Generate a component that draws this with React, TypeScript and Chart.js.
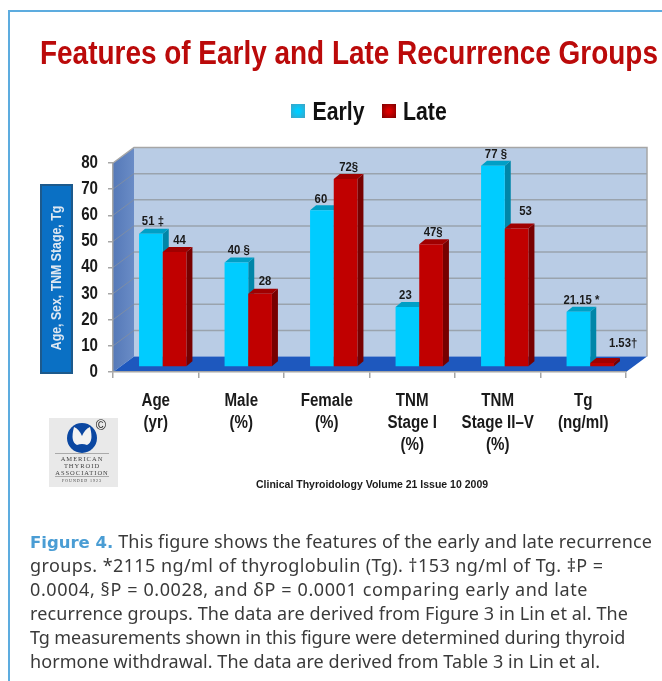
import React, { useEffect, useRef } from "react";
import { Chart, registerables } from "chart.js";

Chart.register(...registerables);

const titleText = "Features of Early and Late Recurrence Groups";
const categories: string[][] = [
  ["Age", "(yr)"],
  ["Male", "(%)"],
  ["Female", "(%)"],
  ["TNM", "Stage I", "(%)"],
  ["TNM", "Stage II\u2013V", "(%)"],
  ["Tg", "(ng/ml)"],
];
const earlyValues = [51, 40, 60, 23, 77, 21.15];
const lateValues = [44, 28, 72, 47, 53, 1.53];
const earlyLabels = ["51 \u2021", "40 \u00a7", "60", "23", "77 \u00a7", "21.15 *"];
const lateLabels = ["44", "28", "72\u00a7", "47\u00a7", "53", "1.53\u2020"];
const earlyNudge = [[2, -12], [2.4, -12.3], [-1, -11], [-2, -11.3], [3, -12], [3, -11.3]];
const lateNudge = [[5, -11.4], [5, -12.3], [3, -12], [2, -12], [9, -17], [21, -20]];
const yAxisTitle = "Age, Sex, TNM Stage, Tg";
const footerText = "Clinical Thyroidology Volume 21 Issue 10 2009";
const logoLines = ["AMERICAN", "THYROID", "ASSOCIATION"];
const logoFounded = "FOUNDED 1923";
const captionLead = "Figure 4.";
const captionLines = [
  " This figure shows the features of the early and late recurrence",
  "groups. *2115 ng/ml of thyroglobulin (Tg). \u2020153 ng/ml of Tg. \u2021P =",
  "0.0004, \u00a7P = 0.0028, and \u03b4P = 0.0001 comparing early and late",
  "recurrence groups. The data are derived from Figure 3 in Lin et al. The",
  "Tg measurements shown in this figure were determined during thyroid",
  "hormone withdrawal. The data are derived from Table 3 in Lin et al.",
];
const captionTracking = [0.16, 0.41, 0.6, 0.11, -0.06, 0.06];

const SANS = '"Liberation Sans", Arial, sans-serif';
const WALL_DX = 21;
const WALL_DY = -15.5;
const BAR_DX = 6;
const BAR_DY = -5;
const SHIFT_X = 7;
const SHIFT_Y = -5;
const faces = [
  { side: "#0086a8", top: "#009fc6" },
  { side: "#770000", top: "#a00000" },
];

// Liberation Sans Narrow is not installed: squeeze text horizontally around its anchor.
const squeeze = { x: 0.84 };

function patchNarrowText(ctx: any) {
  const original = ctx.fillText.bind(ctx);
  ctx.fillText = (t: string, x: number, y: number) => {
    ctx.save();
    ctx.translate(x, y);
    ctx.scale(squeeze.x, 1);
    original(t, 0, 0);
    ctx.restore();
  };
}

const scenePlugin = {
  id: "scene",
  beforeDraw(chart: any) {
    const { ctx, scales } = chart;
    const y = scales.y;
    const x0 = chart.chartArea.left;
    const x1 = chart.chartArea.right;
    const yBase = y.getPixelForValue(0);
    const yTop = y.getPixelForValue(80);
    ctx.save();

    // title
    squeeze.x = 0.834;
    ctx.fillStyle = "#bb0a0a";
    ctx.font = `bold 33.5px ${SANS}`;
    ctx.textAlign = "left";
    ctx.textBaseline = "alphabetic";
    ctx.fillText(titleText, 40, 64);

    // legend
    const swatch = (sx: number, c1: string, c2: string) => {
      const g = ctx.createRadialGradient(sx + 7, 111, 2, sx + 7, 111, 9);
      g.addColorStop(0, c1);
      g.addColorStop(1, c2);
      ctx.fillStyle = g;
      ctx.fillRect(sx, 104, 14, 14);
    };
    swatch(291, "#00ccff", "#3aa6c8");
    swatch(382, "#d80000", "#840000");
    squeeze.x = 0.85;
    ctx.fillStyle = "#111";
    ctx.font = `bold 25px ${SANS}`;
    ctx.fillText("Early", 312.5, 120);
    ctx.fillText("Late", 403, 120);

    // y axis box
    ctx.fillStyle = "#0a70c4";
    ctx.strokeStyle = "#1d5a8c";
    ctx.lineWidth = 2;
    ctx.fillRect(41, 185, 31, 188);
    ctx.strokeRect(41, 185, 31, 188);
    ctx.save();
    ctx.translate(57, 278);
    ctx.rotate(-Math.PI / 2);
    ctx.fillStyle = "#dfe8f2";
    ctx.font = `bold 14.5px ${SANS}`;
    ctx.textAlign = "center";
    ctx.textBaseline = "middle";
    ctx.fillText(yAxisTitle, 0, 0);
    ctx.restore();

    // left wall
    const lw = ctx.createLinearGradient(x0, 0, x0 + WALL_DX, 0);
    lw.addColorStop(0, "#5579b8");
    lw.addColorStop(1, "#6a8cc6");
    ctx.fillStyle = lw;
    ctx.beginPath();
    ctx.moveTo(x0, yBase);
    ctx.lineTo(x0 + WALL_DX, yBase + WALL_DY);
    ctx.lineTo(x0 + WALL_DX, yTop + WALL_DY);
    ctx.lineTo(x0, yTop);
    ctx.closePath();
    ctx.fill();

    // back wall
    ctx.fillStyle = "#b9cce5";
    ctx.fillRect(x0 + WALL_DX, yTop + WALL_DY, x1 - x0, yBase - yTop);
    ctx.strokeStyle = "#a6a6a6";
    ctx.lineWidth = 1.5;
    ctx.beginPath();
    ctx.moveTo(x0, yTop);
    ctx.lineTo(x0 + WALL_DX, yTop + WALL_DY);
    ctx.lineTo(x1 + WALL_DX, yTop + WALL_DY);
    ctx.lineTo(x1 + WALL_DX, yBase + WALL_DY);
    ctx.stroke();

    // grid lines
    for (let v = 10; v < 80; v += 10) {
      const py = y.getPixelForValue(v);
      ctx.strokeStyle = "#7d8da6";
      ctx.lineWidth = 1;
      ctx.beginPath();
      ctx.moveTo(x0, py);
      ctx.lineTo(x0 + WALL_DX, py + WALL_DY);
      ctx.stroke();
      ctx.strokeStyle = "#9aa3ad";
      ctx.lineWidth = 1.5;
      ctx.beginPath();
      ctx.moveTo(x0 + WALL_DX, py + WALL_DY);
      ctx.lineTo(x1 + WALL_DX, py + WALL_DY);
      ctx.stroke();
    }

    // floor
    ctx.fillStyle = "#1e58be";
    ctx.beginPath();
    ctx.moveTo(x0, yBase);
    ctx.lineTo(x0 + WALL_DX, yBase + WALL_DY);
    ctx.lineTo(x1 + WALL_DX, yBase + WALL_DY);
    ctx.lineTo(x1, yBase);
    ctx.closePath();
    ctx.fill();

    // footer
    squeeze.x = 1;
    ctx.fillStyle = "#1a1a1a";
    ctx.font = `bold 10.5px ${SANS}`;
    ctx.textAlign = "left";
    ctx.fillText(footerText, 256, 488);

    // logo
    ctx.fillStyle = "#e9e9e9";
    ctx.fillRect(49, 418, 69, 69);
    ctx.fillStyle = "#0b47a1";
    ctx.beginPath();
    ctx.arc(82, 438, 15, 0, Math.PI * 2);
    ctx.fill();
    ctx.fillStyle = "#f2f2f2";
    ctx.beginPath();
    ctx.moveTo(74, 427);
    ctx.quadraticCurveTo(79, 429, 82, 436);
    ctx.quadraticCurveTo(85, 429, 90, 427);
    ctx.quadraticCurveTo(94, 442, 87, 445);
    ctx.quadraticCurveTo(82, 443, 77, 445);
    ctx.quadraticCurveTo(70, 442, 74, 427);
    ctx.fill();
    ctx.fillStyle = "#222";
    ctx.font = `14px ${SANS}`;
    ctx.textAlign = "center";
    ctx.fillText("\u00a9", 101, 430);
    ctx.strokeStyle = "#aaa";
    ctx.lineWidth = 1;
    ctx.beginPath();
    ctx.moveTo(55, 453.5);
    ctx.lineTo(109, 453.5);
    ctx.moveTo(55, 476.5);
    ctx.lineTo(109, 476.5);
    ctx.stroke();
    ctx.fillStyle = "#444";
    ctx.font = '6.5px "Liberation Serif", serif';
    (ctx as any).letterSpacing = "1px";
    logoLines.forEach((t, i) => ctx.fillText(t, 82, 461 + i * 6.8));
    ctx.font = '4px "Liberation Serif", serif';
    ctx.fillText(logoFounded, 82, 482);
    (ctx as any).letterSpacing = "0px";
    ctx.restore();
    squeeze.x = 0.84;
  },
  beforeDatasetDraw() {
    return false; // bars are painted below, early series first, so late overlaps its side
  },
  beforeDatasetsDraw(chart: any) {
    const { ctx } = chart;
    ctx.save();
    ctx.translate(SHIFT_X, SHIFT_Y);
    [0, 1].forEach((index) => {
      const c = faces[index];
      const meta = chart.getDatasetMeta(index);
      meta.data.forEach((bar: any) => {
        const { x, y, width, base } = bar.getProps(["x", "y", "width", "base"], true);
        const l = x - width / 2;
        const r = x + width / 2;
        ctx.fillStyle = c.side;
        ctx.beginPath();
        ctx.moveTo(r, y);
        ctx.lineTo(r + BAR_DX, y + BAR_DY);
        ctx.lineTo(r + BAR_DX, base + BAR_DY);
        ctx.lineTo(r, base);
        ctx.closePath();
        ctx.fill();
        ctx.fillStyle = c.top;
        ctx.beginPath();
        ctx.moveTo(l, y);
        ctx.lineTo(l + BAR_DX, y + BAR_DY);
        ctx.lineTo(r + BAR_DX, y + BAR_DY);
        ctx.lineTo(r, y);
        ctx.closePath();
        ctx.fill();
        bar.draw(ctx);
      });
    });
    ctx.restore();
  },
  afterDatasetsDraw(chart: any) {
    const { ctx } = chart;
    ctx.save();
    squeeze.x = 0.84;
    ctx.fillStyle = "#1a1a1a";
    ctx.font = `bold 13.5px ${SANS}`;
    ctx.textAlign = "center";
    ctx.textBaseline = "middle";
    const sets = [
      { labels: earlyLabels, nudge: earlyNudge },
      { labels: lateLabels, nudge: lateNudge },
    ];
    sets.forEach((s, i) => {
      chart.getDatasetMeta(i).data.forEach((bar: any, j: number) => {
        const { x, y } = bar.getProps(["x", "y"], true);
        ctx.fillText(
          s.labels[j],
          x + SHIFT_X + s.nudge[j][0],
          y + SHIFT_Y + s.nudge[j][1]
        );
      });
    });
    ctx.restore();
  },
};

export default function App() {
  const ref = useRef<HTMLCanvasElement | null>(null);
  useEffect(() => {
    const canvas = ref.current as HTMLCanvasElement;
    patchNarrowText(canvas.getContext("2d"));
    const chart = new Chart(canvas, {
      type: "bar",
      data: {
        labels: categories as any,
        datasets: [
          { label: "Early", data: earlyValues, backgroundColor: "#00ccff" },
          { label: "Late", data: lateValues, backgroundColor: "#c00000" },
        ],
      },
      plugins: [scenePlugin as any],
      options: {
        responsive: false,
        animation: false,
        layout: { padding: { left: 0, right: 36, top: 163, bottom: 0 } },
        datasets: { bar: { categoryPercentage: 0.554, barPercentage: 1 } },
        plugins: {
          legend: { display: false },
          title: { display: false },
          tooltip: { enabled: false },
        },
        scales: {
          x: {
            afterFit: (s: any) => {
              s.height = 309;
            },
            grid: {
              offset: true,
              drawOnChartArea: false,
              color: "#a6a6a6",
              lineWidth: 1.5,
              tickLength: 6,
            },
            border: { color: "#a6a6a6", width: 1.5 },
            ticks: {
              autoSkip: false,
              maxRotation: 0,
              minRotation: 0,
              padding: 12,
              color: "#1a1a1a",
              font: { family: SANS, size: 18, weight: "bold", lineHeight: 1.22 },
            },
          },
          y: {
            min: 0,
            max: 80,
            afterFit: (s: any) => {
              s.width = 113;
            },
            grid: {
              drawOnChartArea: false,
              color: "#a6a6a6",
              lineWidth: 1.5,
              tickLength: 5,
            },
            border: { color: "#a6a6a6", width: 1.5 },
            ticks: {
              stepSize: 10,
              padding: 10,
              color: "#1a1a1a",
              font: { family: SANS, size: 18, weight: "bold" },
            },
          },
        },
      } as any,
    });
    return () => chart.destroy();
  }, []);

  return (
    <div style={{ position: "absolute", left: 0, top: 0, width: 662, height: 681, overflow: "hidden", background: "#fff" }}>
      <canvas ref={ref} width={662} height={681} style={{ position: "absolute", left: 0, top: 0 }} />
      <div
        style={{
          position: "absolute",
          left: 8,
          top: 10,
          width: 660,
          height: 680,
          borderLeft: "2px solid #5dacdf",
          borderTop: "2px solid #5dacdf",
        }}
      />
      <div
        style={{
          position: "absolute",
          left: 30,
          top: 529,
          whiteSpace: "pre",
          font: '18px/24px "Noto Sans", sans-serif',
          color: "#3a3a3a",
        }}
      >
        {captionLines.map((line, i) => (
          <div key={i} style={{ letterSpacing: captionTracking[i] }}>
            {i === 0 && (
              <b style={{ color: "#4a9dd4", font: 'bold 16.5px "DejaVu Sans", sans-serif', letterSpacing: 0 }}>
                {captionLead}
              </b>
            )}
            {line}
          </div>
        ))}
      </div>
    </div>
  );
}
